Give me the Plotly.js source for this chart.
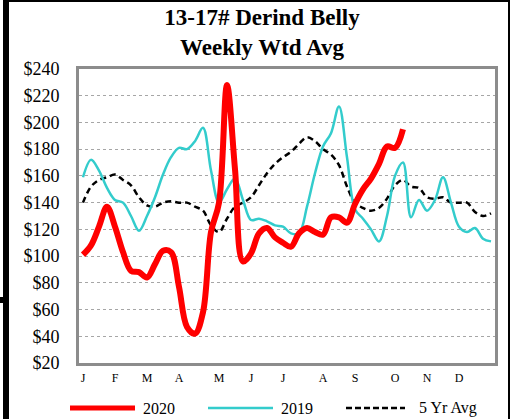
<!DOCTYPE html>
<html>
<head>
<meta charset="utf-8">
<script src="https://cdn.plot.ly/plotly-3.0.1.min.js"></script>
<style>
html,body{margin:0;padding:0;background:#fff;}
#chart{width:510px;height:419px;}
</style>
</head>
<body>
<div id="chart"></div>
<script>
// Week index 0..51
const weeks = Array.from({length: 52}, (_, i) => i);

const series2020 = [101,108,122,137,122,103,89,88,84,94,104,103,77,47,42,58,118,140,228,165,96,102,117,121,114,110,107,117,121,118,116,129,129,125,139,150,158,169,182,181,195];

const series2019 = [159,172,164,151,142,140,130,119,130,144,161,174,181,180,186,196,164,140,150,158,142,127,128,126,123,122,117,117,137,162,182,192,212,174,135,128,120,111,130,160,170,129,142,134,142,159,140,122,118,121,113,111];

const series5yr = [140,152,157,159,161,157,153,144,138,137,140,141,140,140,137,134,123,118,128,137,140,144,153,162,169,174,178,184,189,186,180,176,168,152,140,136,134,136,143,153,157,152,151,144,143,144,140,140,140,133,130,132];

const monthTickVals = [0,4,8,12,17,21,25,30,34,39,43,47];
const monthTickText = ['J','F','M','A','M','J','J','A','S','O','N','D'];

const seriesNames = ['2020','2019','5 Yr Avg'];

// layout geometry (pixels)
const W = 510, H = 419;
const mL = 79, mR = 15, mT = 69, mB = 56;
const pw = W - mL - mR, ph = H - mT - mB;
const px = x => (x - mL) / pw;
const py = y => (H - mB - y) / ph;

const serif = 'Liberation Serif, Times New Roman, serif';

const traces = [
  {x: weeks, y: series5yr, name: seriesNames[2], type: 'scatter', mode: 'lines',
   line: {color: '#000000', width: 2.5, dash: '6px,4px', shape: 'spline', smoothing: 1}},
  {x: weeks, y: series2019, name: seriesNames[1], type: 'scatter', mode: 'lines',
   line: {color: '#33cccc', width: 2.5, shape: 'spline', smoothing: 1}},
  {x: weeks.slice(0, series2020.length), y: series2020, name: seriesNames[0], type: 'scatter', mode: 'lines',
   line: {color: '#ff0000', width: 6, shape: 'spline', smoothing: 1}}
];

const shapes = [
  // outer black frame pieces
  {type:'rect', xref:'paper', yref:'paper', x0:px(3), x1:px(510), y0:py(0), y1:py(2), fillcolor:'#000', line:{width:0}, layer:'above'},
  {type:'rect', xref:'paper', yref:'paper', x0:px(3), x1:px(9), y0:py(0), y1:py(419), fillcolor:'#000', line:{width:0}, layer:'above'},
  {type:'rect', xref:'paper', yref:'paper', x0:px(0), x1:px(9), y0:py(297), y1:py(303), fillcolor:'#000', line:{width:0}, layer:'above'},
  {type:'rect', xref:'paper', yref:'paper', x0:px(508), x1:px(510), y0:py(0), y1:py(419), fillcolor:'#000', line:{width:0}, layer:'above'},
  // custom legend samples
  {type:'line', xref:'paper', yref:'paper', x0:px(70), x1:px(135), y0:py(408), y1:py(408), line:{color:'#ff0000', width:5}},
  {type:'line', xref:'paper', yref:'paper', x0:px(208), x1:px(273), y0:py(408), y1:py(408), line:{color:'#33cccc', width:2.5}},
  {type:'line', xref:'paper', yref:'paper', x0:px(346), x1:px(405), y0:py(408), y1:py(408), line:{color:'#000000', width:2.5, dash:'6px,3px'}}
];

const annotations = [
  {text: seriesNames[0], xref:'paper', yref:'paper', x:px(141), y:py(408), xanchor:'left', yanchor:'middle', showarrow:false, font:{family:serif, size:16, color:'#000'}},
  {text: seriesNames[1], xref:'paper', yref:'paper', x:px(279), y:py(408), xanchor:'left', yanchor:'middle', showarrow:false, font:{family:serif, size:16, color:'#000'}},
  {text: seriesNames[2], xref:'paper', yref:'paper', x:px(417), y:py(408), xanchor:'left', yanchor:'middle', showarrow:false, font:{family:serif, size:16, color:'#000'}}
];

const layout = {
  width: W, height: H,
  margin: {l: mL, r: mR, t: mT, b: mB, pad: 0},
  paper_bgcolor: '#ffffff',
  plot_bgcolor: '#ffffff',
  showlegend: false,
  title: {
    text: '<b>13-17# Derind Belly</b><br><b>Weekly Wtd Avg</b>',
    font: {family: serif, size: 23, color: '#000'},
    x: 262 / W, xref: 'container', xanchor: 'center',
    y: 1 - 25 / H, yref: 'container', yanchor: 'top'
  },
  xaxis: {
    range: [-0.5, 51.5],
    tickmode: 'array', tickvals: monthTickVals, ticktext: monthTickText,
    tickfont: {family: serif, size: 12, color: '#000'},
    ticks: '', ticklabelstandoff: 2,
    showgrid: false, zeroline: false,
    showline: true, mirror: true, linecolor: '#8c8c8c', linewidth: 3
  },
  yaxis: {
    range: [20, 240], dtick: 20, tick0: 20, tickprefix: '$',
    tickfont: {family: serif, size: 18, color: '#000'},
    ticks: '', ticklabelstandoff: 13,
    showgrid: true, gridcolor: '#a6a6a6', gridwidth: 1, griddash: 'dot',
    zeroline: false,
    showline: true, mirror: true, linecolor: '#8c8c8c', linewidth: 3
  },
  shapes: shapes,
  annotations: annotations
};

Plotly.newPlot('chart', traces, layout, {displayModeBar: false, staticPlot: true});
</script>
</body>
</html>
